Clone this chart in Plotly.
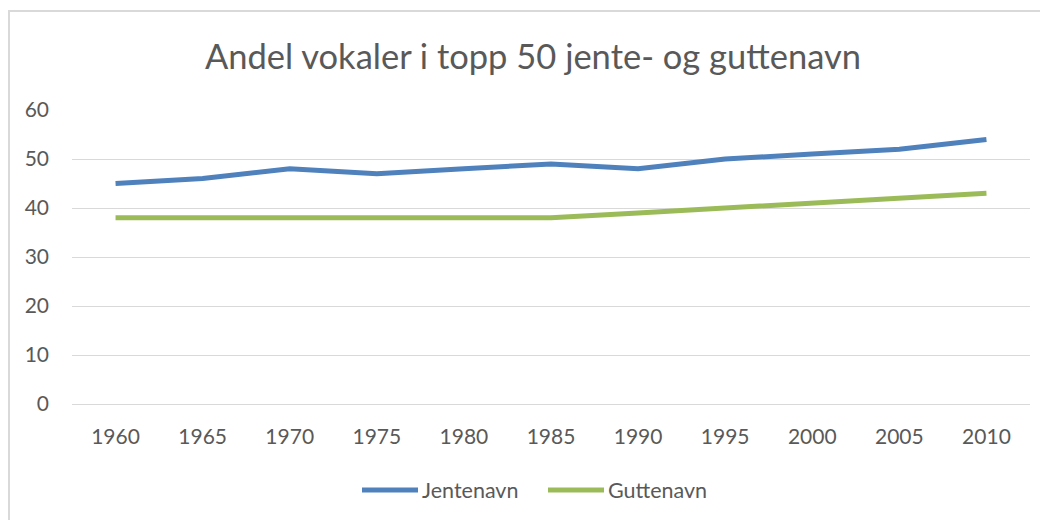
import plotly.graph_objects as go

years = ["1960", "1965", "1970", "1975", "1980", "1985", "1990", "1995", "2000", "2005", "2010"]
jentenavn = [45, 46, 48, 47, 48, 49, 48, 50, 51, 52, 54]
guttenavn = [38, 38, 38, 38, 38, 38, 39, 40, 41, 42, 43]
y_ticks = [0, 10, 20, 30, 40, 50, 60]
series_names = ["Jentenavn", "Guttenavn"]
series_colors = ["#4F81BD", "#9BBB59"]

font_family = "Lato, 'Open Sans', sans-serif"
text_color = "#595959"
grid_color = "#D9D9D9"

# figure is drawn 8px in from the page edge (browser body margin)
W, H = 1040, 512
L, R, T, B = 64, 18, 102, 116
PW, PH = W - L - R, H - T - B


def px(x):
    return (x - L) / PW


def py(y):
    return (H - B - y) / PH


fig = go.Figure()
for name, vals, col in zip(series_names, [jentenavn, guttenavn], series_colors):
    fig.add_trace(go.Scatter(x=years, y=vals, mode="lines", name=name,
                             line=dict(color=col, width=5), showlegend=False))

shapes = [dict(type="rect", xref="paper", yref="paper",
               x0=px(1), x1=px(1060), y0=py(530), y1=py(3),
               line=dict(color=grid_color, width=2), fillcolor="rgba(0,0,0,0)", layer="below")]
annotations = []
legend_items = [(354, 410, 412), (540, 596, 598)]
for (x0, x1, tx), name, col in zip(legend_items, series_names, series_colors):
    shapes.append(dict(type="line", xref="paper", yref="paper",
                       x0=px(x0), x1=px(x1), y0=py(482), y1=py(482),
                       line=dict(color=col, width=5)))
    annotations.append(dict(text=name, xref="paper", yref="paper", x=px(tx), y=py(482),
                            xanchor="left", yanchor="middle", showarrow=False,
                            font=dict(family=font_family, size=21.5, color=text_color)))

fig.update_layout(
    width=W, height=H,
    paper_bgcolor="white", plot_bgcolor="white",
    margin=dict(l=L, r=R, t=T, b=B),
    title=dict(text="Andel vokaler i topp 50 jente- og guttenavn",
               x=525 / W, xanchor="center", xref="container", y=1 - 49 / H, yanchor="middle",
               font=dict(family=font_family, size=34.5, color=text_color)),
    font=dict(family=font_family, size=21, color=text_color),
    showlegend=False,
    shapes=shapes,
    annotations=annotations,
)
fig.update_xaxes(type="category", showgrid=False, showline=True, linecolor=grid_color,
                 linewidth=1, ticks="", tickfont=dict(size=21, color=text_color),
                 ticklabelstandoff=14, range=[-0.5, len(years) - 0.5])
fig.update_yaxes(range=[0, 60], tickvals=y_ticks, showgrid=True, gridcolor=grid_color,
                 gridwidth=1, zeroline=False, showline=False, ticks="",
                 tickfont=dict(size=21, color=text_color), ticklabelstandoff=22)

fig.write_html("out.html")
